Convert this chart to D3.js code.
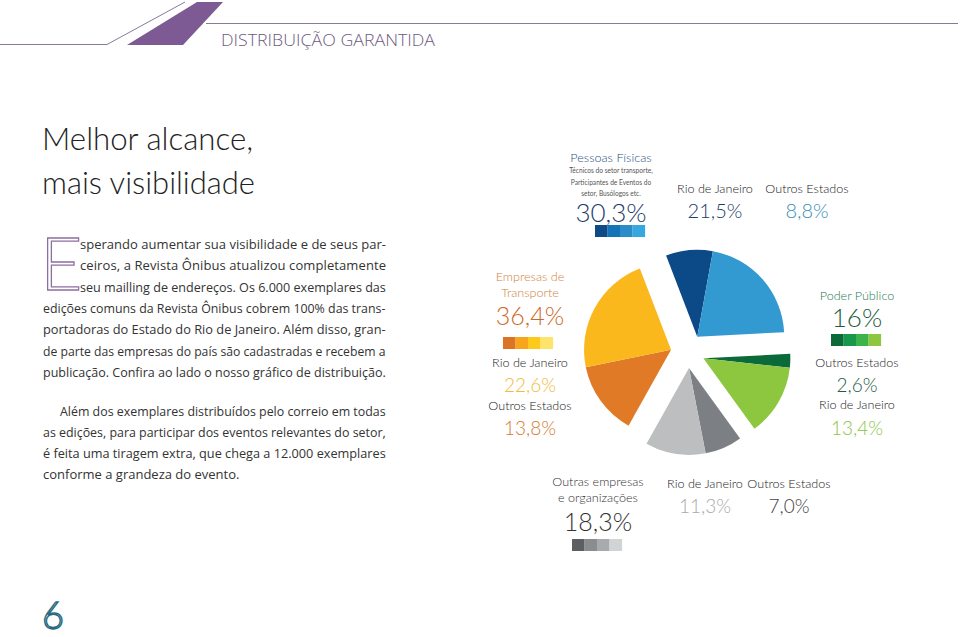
<!DOCTYPE html>
<html><head><meta charset="utf-8">
<script src="https://cdn.jsdelivr.net/npm/d3@7"></script>
<style>body{margin:0;background:#fff}svg{display:block}</style>
</head><body>
<script>
// ---- data ----
const groups = ["Pessoas Físicas", "Poder Público", "Outras empresas e organizações", "Empresas de Transporte"];
const groupTotals = [30.3, 16, 18.3, 36.4];
const subLabels = ["Outros Estados", "Rio de Janeiro"];
const subValues = [[8.8, 21.5], [2.6, 13.4], [7.0, 11.3], [13.8, 22.6]];
const subtitlePF = ["Técnicos do setor transporte,", "Participantes de Eventos do", "setor, Busólogos etc."];
const para1 = [
 "sperando aumentar sua visibilidade e de seus par-",
 "ceiros, a Revista Ônibus atualizou completamente",
 "seu mailling de endereços. Os 6.000 exemplares das",
 "edições comuns da Revista Ônibus cobrem 100% das trans-",
 "portadoras do Estado do Rio de Janeiro. Além disso,  gran-",
 "de parte das empresas do país são cadastradas e recebem a",
 "publicação. Confira ao lado o nosso gráfico de distribuição."];
const para2 = [
 "Além dos exemplares distribuídos pelo correio em todas",
 "as edições, para participar dos eventos relevantes do setor,",
 "é feita uma tiragem extra, que chega a 12.000 exemplares",
 "conforme a grandeza do evento."];

// ---- styles ----
const sliceColors = [["#0c4a87", "#3399d1"], ["#0b6a3a", "#8dc63f"], ["#7c7f83", "#bcbec0"], ["#e07a27", "#fbb81c"]];
const swatches = [["#0d4a86", "#1474b7", "#2c8cc9", "#36a8df"], ["#0b6a3a", "#17984a", "#3cb44b", "#8dc63f"],
                  ["#5d5e61", "#8a8c8f", "#a8aaad", "#d2d3d5"], ["#dd7325", "#f7a51c", "#fdc91a", "#fee46a"]];

const locale = d3.formatLocale({decimal: ",", thousands: ".", grouping: [3], currency: ["", ""]});
const fTot = locale.format(".1~f"), fSub = locale.format(".1f");

const svg = d3.select("body").append("svg").attr("width", 960).attr("height", 637);
svg.append("rect").attr("width", 960).attr("height", 637).attr("fill", "#fff");

// ---- header ----
svg.append("path").attr("d", "M0,44.5 H107 L185,2").attr("fill", "none").attr("stroke", "#8a7a99").attr("stroke-width", 1);
svg.append("path").attr("d", "M197,2 H223 L183,45 H127 Z").attr("fill", "#7d5a93");
svg.append("line").attr("x1", 206).attr("x2", 958).attr("y1", 23.5).attr("y2", 23.5).attr("stroke", "#8a7a99").attr("stroke-width", 1);
svg.append("text").attr("x", 221).attr("y", 46).attr("font-family", "Open Sans").attr("font-weight", 300)
  .attr("font-size", 17).attr("fill", "#6e5a80").attr("textLength", 214).attr("lengthAdjust", "spacingAndGlyphs").text("DISTRIBUIÇÃO GARANTIDA");

// ---- title ----
const title = svg.append("g").attr("font-family", "Lato").attr("font-weight", 300).attr("font-size", 31).attr("fill", "#222");
title.append("text").attr("x", 42).attr("y", 150).attr("textLength", 211).attr("lengthAdjust", "spacingAndGlyphs").text("Melhor alcance,");
title.append("text").attr("x", 42).attr("y", 194).attr("textLength", 213).attr("lengthAdjust", "spacingAndGlyphs").text("mais visibilidade");

// ---- paragraphs ----
const pg = svg.append("g").attr("font-family", "Open Sans").attr("fill", "#333");
function justLine(t, x, y, right, justify) {
  const s = pg.append("text").attr("transform", `translate(${x},${y})`).attr("font-size", 13).text(t);
  const w = s.node().getComputedTextLength();
  const target = right - x;
  if (w > target) s.attr("font-size", 13 * target / w);
  if (justify && w < target) s.attr("textLength", target).attr("lengthAdjust", "spacing");
}
para1.forEach((t, i) => justLine(t, i < 3 ? 80 : 43, 249 + i * 21.3, 386, true));
para2.forEach((t, i) => justLine(t, i === 0 ? 60 : 43, 416 + i * 21, 386, i < para2.length - 1));
svg.append("text").attr("x", 40).attr("y", 290).attr("font-family", "Lato").attr("font-weight", 300)
  .attr("font-size", 73).attr("fill", "none").attr("stroke", "#8e6fa0").attr("stroke-width", 1.3).text("E");

// ---- page number ----
svg.append("text").attr("x", 42).attr("y", 629).attr("font-family", "Lato").attr("font-weight", 300).attr("font-size", 38)
  .attr("fill", "#fff").attr("stroke", "#2a6a80").attr("stroke-width", 1.4).text("6");

// ---- pie ----
const flat = [];
subValues.forEach((pair, g) => pair.forEach((v, k) => flat.push({g, k, v})));
const start = -21 * Math.PI / 180;
const pie = d3.pie().value(d => d.v).sort(null).startAngle(start).endAngle(start + 2 * Math.PI);
const arcs = pie(flat);
const groupMid = groups.map((_, g) => {
  const a = arcs.filter(d => d.data.g === g);
  return (a[0].startAngle + a[a.length - 1].endAngle) / 2;
});
const cx = 688, cy = 351, R = 87, off = 17;
const arc = d3.arc().innerRadius(0).outerRadius(R);
svg.append("g").attr("transform", `translate(${cx},${cy})`).selectAll("path").data(arcs).join("path")
  .attr("d", arc).attr("fill", d => sliceColors[d.data.g][d.data.k])
  .attr("transform", d => {
    const m = groupMid[d.data.g];
    return `translate(${off * Math.sin(m)},${-off * Math.cos(m)})`;
  });

// ---- labels ----
function label(x, y, txt, size, color, weight) {
  svg.append("text").attr("x", x).attr("y", y).attr("text-anchor", "middle")
    .attr("font-family", "Lato").attr("font-weight", weight || 300).attr("font-size", size).attr("fill", color).text(txt);
}
function swatch(x, y, g) {
  svg.append("g").selectAll("rect").data(swatches[g]).join("rect")
    .attr("x", (d, i) => x + i * 12.5).attr("y", y).attr("width", 12.6).attr("height", 12).attr("fill", d => d);
}
const LS = 12.6;
// Pessoas Físicas (g=0)
label(611, 162, groups[0], LS, "#1f4f80");
subtitlePF.forEach((t, i) => label(611, 173 + i * 11.5, t, 6.6, "#555", 400));
label(611, 222, fTot(groupTotals[0]) + "%", 26, "#1d3c6a");
swatch(595, 225, 0);
label(715, 193, subLabels[1], LS, "#222");
label(715, 218, fSub(subValues[0][1]) + "%", 20, "#1d3c6a");
label(807, 193, subLabels[0], LS, "#222");
label(807, 218, fSub(subValues[0][0]) + "%", 20, "#3a8db8");
// Empresas de Transporte (g=3)
label(530, 281, "Empresas de", LS, "#d08443");
label(530, 297, "Transporte", LS, "#d08443");
label(530, 325, fTot(groupTotals[3]) + "%", 25, "#cc6a2a");
swatch(503, 337, 3);
label(530, 367, subLabels[1], LS, "#222");
label(530, 392, fSub(subValues[3][1]) + "%", 19, "#efbb3a");
label(530, 410, subLabels[0], LS, "#222");
label(530, 435, fSub(subValues[3][0]) + "%", 19, "#d37a2e");
// Poder Público (g=1)
label(857, 300, groups[1], LS, "#2a7a55");
label(857, 327, fTot(groupTotals[1]) + "%", 26, "#1e5c42");
swatch(831, 334, 1);
label(857, 367, subLabels[0], LS, "#222");
label(857, 392, fSub(subValues[1][0]) + "%", 19, "#1e5c42");
label(857, 409, subLabels[1], LS, "#222");
label(857, 435, fSub(subValues[1][1]) + "%", 19, "#8cc43f");
// Outras empresas (g=2)
label(598, 486, "Outras empresas", LS, "#333");
label(598, 502, "e organizações", LS, "#333");
label(598, 531, fTot(groupTotals[2]) + "%", 25, "#333");
swatch(572, 539, 2);
label(705, 488, subLabels[1], LS, "#222");
label(705, 513, fSub(subValues[2][1]) + "%", 19, "#aaa");
label(789, 488, subLabels[0], LS, "#222");
label(789, 513, fSub(subValues[2][0]) + "%", 19, "#444");
</script>
</body></html>
